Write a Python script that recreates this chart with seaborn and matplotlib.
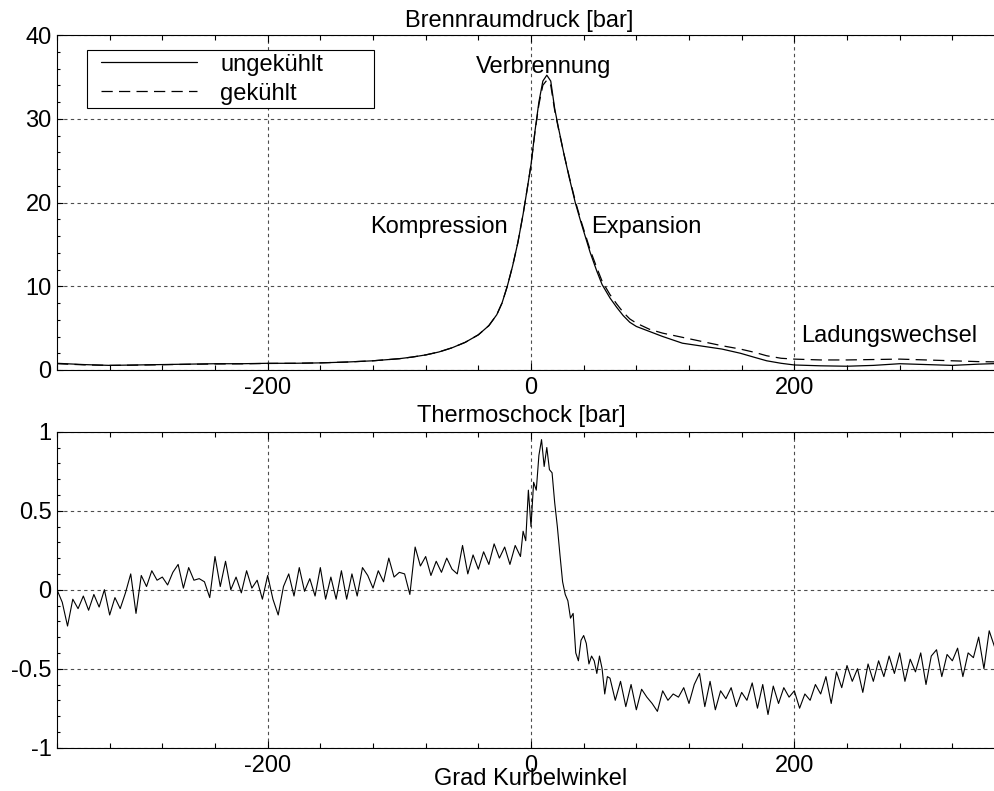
import numpy as np
import pandas as pd
import matplotlib
matplotlib.use("Agg")
import matplotlib.pyplot as plt
import seaborn as sns
from matplotlib.ticker import MultipleLocator
from matplotlib.lines import Line2D
from matplotlib.legend_handler import HandlerLine2D

# ---------------- data ----------------
# crank angle grid for the pressure traces [deg]
p_x = [-360, -340, -320, -300, -280, -260, -240, -220, -200, -180, -160, -140, -120, -100,
       -90, -80, -70, -60, -50, -40,
       -32, -26, -22, -18, -14, -10, -6, -3,
       0, 3, 6, 9, 12, 15, 18, 21,
       25, 29, 33.6, 38,
       45, 50, 54, 60, 65, 70, 75, 80,
       90, 100, 115, 130, 145, 159, 170, 179, 190, 200,
       220, 240, 260, 280, 300, 320, 340, 360]

# combustion chamber pressure, uncooled [bar]
p_ungekuehlt = [0.80, 0.65, 0.55, 0.60, 0.65, 0.70, 0.75, 0.75, 0.80, 0.80, 0.85, 0.95, 1.10, 1.35,
                1.55, 1.80, 2.15, 2.65, 3.30, 4.20,
                5.30, 6.60, 8.00, 10.0, 12.4, 15.2, 18.6, 21.5,
                24.5, 28.5, 32.0, 34.5, 35.2, 34.5, 31.2, 28.8,
                25.8, 23.0, 20.0, 17.6,
                14.0, 11.8, 10.2, 8.6, 7.5, 6.5, 5.7, 5.2,
                4.6, 4.0, 3.2, 2.85, 2.5, 2.0, 1.5, 1.1, 0.8, 0.6,
                0.5, 0.45, 0.55, 0.75, 0.65, 0.55, 0.7, 0.8]

# combustion chamber pressure, cooled [bar]
p_gekuehlt = [0.75, 0.62, 0.55, 0.58, 0.63, 0.68, 0.72, 0.74, 0.78, 0.80, 0.85, 0.95, 1.10, 1.35,
              1.55, 1.80, 2.15, 2.65, 3.30, 4.20,
              5.30, 6.60, 8.00, 10.0, 12.4, 15.2, 18.6, 21.5,
              24.5, 28.4, 31.7, 34.0, 34.6, 34.0, 31.0, 28.7,
              25.8, 23.1, 20.2, 17.8,
              14.3, 12.2, 10.6, 9.0, 7.9, 6.9, 6.1, 5.6,
              4.86, 4.4, 3.9, 3.4, 2.9, 2.5, 2.1, 1.7, 1.4, 1.3,
              1.2, 1.2, 1.25, 1.3, 1.2, 1.1, 1.0, 0.95]

# thermal shock signal [bar]
shock_x = np.concatenate([np.arange(-360, -8, 4), np.arange(-8, 60, 2), np.arange(60, 361, 4)])
shock_y = [
    # -360 .. -12 (step 4)
    0.00, -0.08, -0.23, -0.06, -0.12, -0.04, -0.13, -0.03, -0.11, 0.00,
    -0.16, -0.05, -0.12, -0.02, 0.10, -0.15, 0.09, 0.02, 0.12, 0.06,
    0.08, 0.03, 0.11, 0.16, 0.01, 0.14, 0.06, 0.07, 0.05, -0.05,
    0.21, 0.02, 0.18, 0.00, 0.08, -0.02, 0.12, 0.01, 0.06, -0.06,
    0.09, -0.06, -0.16, 0.02, 0.10, -0.04, 0.14, -0.01, 0.07, -0.04,
    0.14, -0.06, 0.08, -0.06, 0.12, -0.06, 0.10, -0.04, 0.14, 0.09,
    0.01, 0.12, 0.05, 0.20, 0.08, 0.11, 0.10, -0.03, 0.27, 0.15,
    0.21, 0.09, 0.18, 0.11, 0.20, 0.13, 0.10, 0.28, 0.10, 0.22,
    0.13, 0.24, 0.16, 0.29, 0.20, 0.27, 0.16, 0.28,
    # -8 .. 58 (step 2)
    0.21, 0.37, 0.31, 0.63, 0.40, 0.68, 0.63, 0.85, 0.95, 0.78,
    0.90, 0.76, 0.74, 0.55, 0.40, 0.22, 0.05, -0.03, -0.07, -0.18,
    -0.15, -0.40, -0.45, -0.32, -0.29, -0.34, -0.47, -0.42, -0.45, -0.53,
    -0.42, -0.50, -0.66, -0.55,
    # 60 .. 360 (step 4)
    -0.56, -0.70, -0.58, -0.74, -0.60, -0.76, -0.63, -0.68, -0.72, -0.77,
    -0.64, -0.70, -0.66, -0.68, -0.62, -0.72, -0.60, -0.53, -0.74, -0.58,
    -0.76, -0.64, -0.69, -0.62, -0.74, -0.65, -0.70, -0.59, -0.75, -0.60,
    -0.79, -0.61, -0.72, -0.62, -0.68, -0.64, -0.75, -0.66, -0.70, -0.60,
    -0.66, -0.55, -0.72, -0.52, -0.62, -0.48, -0.58, -0.50, -0.65, -0.47,
    -0.58, -0.45, -0.55, -0.42, -0.53, -0.40, -0.58, -0.44, -0.52, -0.40,
    -0.60, -0.42, -0.38, -0.55, -0.41, -0.45, -0.37, -0.55, -0.40, -0.43,
    -0.30, -0.50, -0.26, -0.36, -0.22, -0.35,
]

series_labels = ["ungekühlt", "gekühlt"]
x_ticks = [-200, 0, 200]
x_ticklabels = ["-200", "0", "200"]
top_yticks = [0, 10, 20, 30, 40]
top_yticklabels = ["0", "10", "20", "30", "40"]
bot_yticks = [-1, -0.5, 0, 0.5, 1]
bot_yticklabels = ["-1", "-0.5", "0", "0.5", "1"]

# ---------------- style ----------------
sns.set_style("ticks")
plt.rcParams["font.family"] = ["Liberation Sans", "DejaVu Sans"]
plt.rcParams["axes.unicode_minus"] = False
plt.rcParams["text.color"] = "black"
plt.rcParams["axes.labelcolor"] = "black"
plt.rcParams["xtick.color"] = "black"
plt.rcParams["ytick.color"] = "black"
FS = 17

W, H = 994, 791
fig = plt.figure(figsize=(W / 100, H / 100), dpi=100)


def px_axes(left, top, right, bottom):
    return fig.add_axes([left / W, 1 - bottom / H, (right - left) / W, (bottom - top) / H])


ax1 = px_axes(57, 35, 1005, 370)
ax2 = px_axes(57, 431.7, 1005, 747.7)

DASH = (9, 5)
LW = 0.9

df_p = pd.DataFrame({
    "Kurbelwinkel": list(p_x) * 2,
    "Druck": p_ungekuehlt + p_gekuehlt,
    "Zustand": [series_labels[0]] * len(p_x) + [series_labels[1]] * len(p_x),
})
sns.lineplot(data=df_p, x="Kurbelwinkel", y="Druck", style="Zustand",
             dashes={series_labels[0]: "", series_labels[1]: DASH},
             color="black", lw=LW, ax=ax1, estimator=None, sort=False, legend=False)

df_s = pd.DataFrame({"Kurbelwinkel": shock_x, "Thermoschock": shock_y})
sns.lineplot(data=df_s, x="Kurbelwinkel", y="Thermoschock", color="black", lw=0.8,
             ax=ax2, estimator=None, sort=False)

for ax in (ax1, ax2):
    ax.set_xlim(-360, 360)
    ax.set_xticks(x_ticks, x_ticklabels)
    ax.xaxis.set_minor_locator(MultipleLocator(40))
    ax.tick_params(axis="both", which="both", direction="in", top=True, right=False,
                   labelsize=FS, colors="black", width=0.8)
    ax.tick_params(axis="x", which="major", length=5, pad=5)
    ax.tick_params(axis="x", which="minor", length=3.5)
    ax.tick_params(axis="y", which="major", length=4, pad=3.8)
    ax.tick_params(axis="y", which="minor", length=2.5)
    ax.grid(True, which="major", color="0.3", lw=0.8, ls=(0, (3, 3)))
    ax.set_xlabel("")
    ax.set_ylabel("")
    for side in ("left", "bottom", "top"):
        ax.spines[side].set_color("black")
        ax.spines[side].set_linewidth(0.8)
    ax.spines["right"].set_visible(False)

ax1.set_ylim(0, 40)
ax1.set_yticks(top_yticks, top_yticklabels)
ax1.yaxis.set_minor_locator(MultipleLocator(2))

ax2.set_ylim(-1, 1)
ax2.set_yticks(bot_yticks, bot_yticklabels)
ax2.yaxis.set_minor_locator(MultipleLocator(0.1))

ax1.set_title("Brennraumdruck [bar]", fontsize=FS, x=0.488, pad=5.8, color="black")
ax2.set_title("Thermoschock [bar]", fontsize=FS, x=0.490, pad=7, color="black")
ax2.set_xlabel("Grad Kurbelwinkel", fontsize=FS, labelpad=-6, color="black")

ax1.text(9.7, 35.5, "Verbrennung", fontsize=FS, ha="center", va="baseline")
ax1.text(-18, 16.3, "Kompression", fontsize=FS, ha="right", va="baseline")
ax1.text(46, 16.3, "Expansion", fontsize=FS, ha="left", va="baseline")
ax1.text(205, 3.4, "Ladungswechsel", fontsize=FS, ha="left", va="baseline")

handles = [Line2D([], [], color="black", lw=LW),
           Line2D([], [], color="black", lw=LW, dashes=DASH)]
leg = ax1.legend(handles, series_labels, loc="upper left",
                 bbox_to_anchor=(30 / 948, 0.3, 287 / 948, (320 - 0.3 * 335) / 335),
                 mode="expand", borderaxespad=0, borderpad=0.15, fontsize=FS,
                 handlelength=4.5, handletextpad=1.0, labelspacing=0.3,
                 frameon=True, fancybox=False, framealpha=1, edgecolor="black",
                 handler_map={Line2D: HandlerLine2D(xpad=0.45)})
leg.get_frame().set_linewidth(0.8)

fig.savefig("out.png", dpi=100)
